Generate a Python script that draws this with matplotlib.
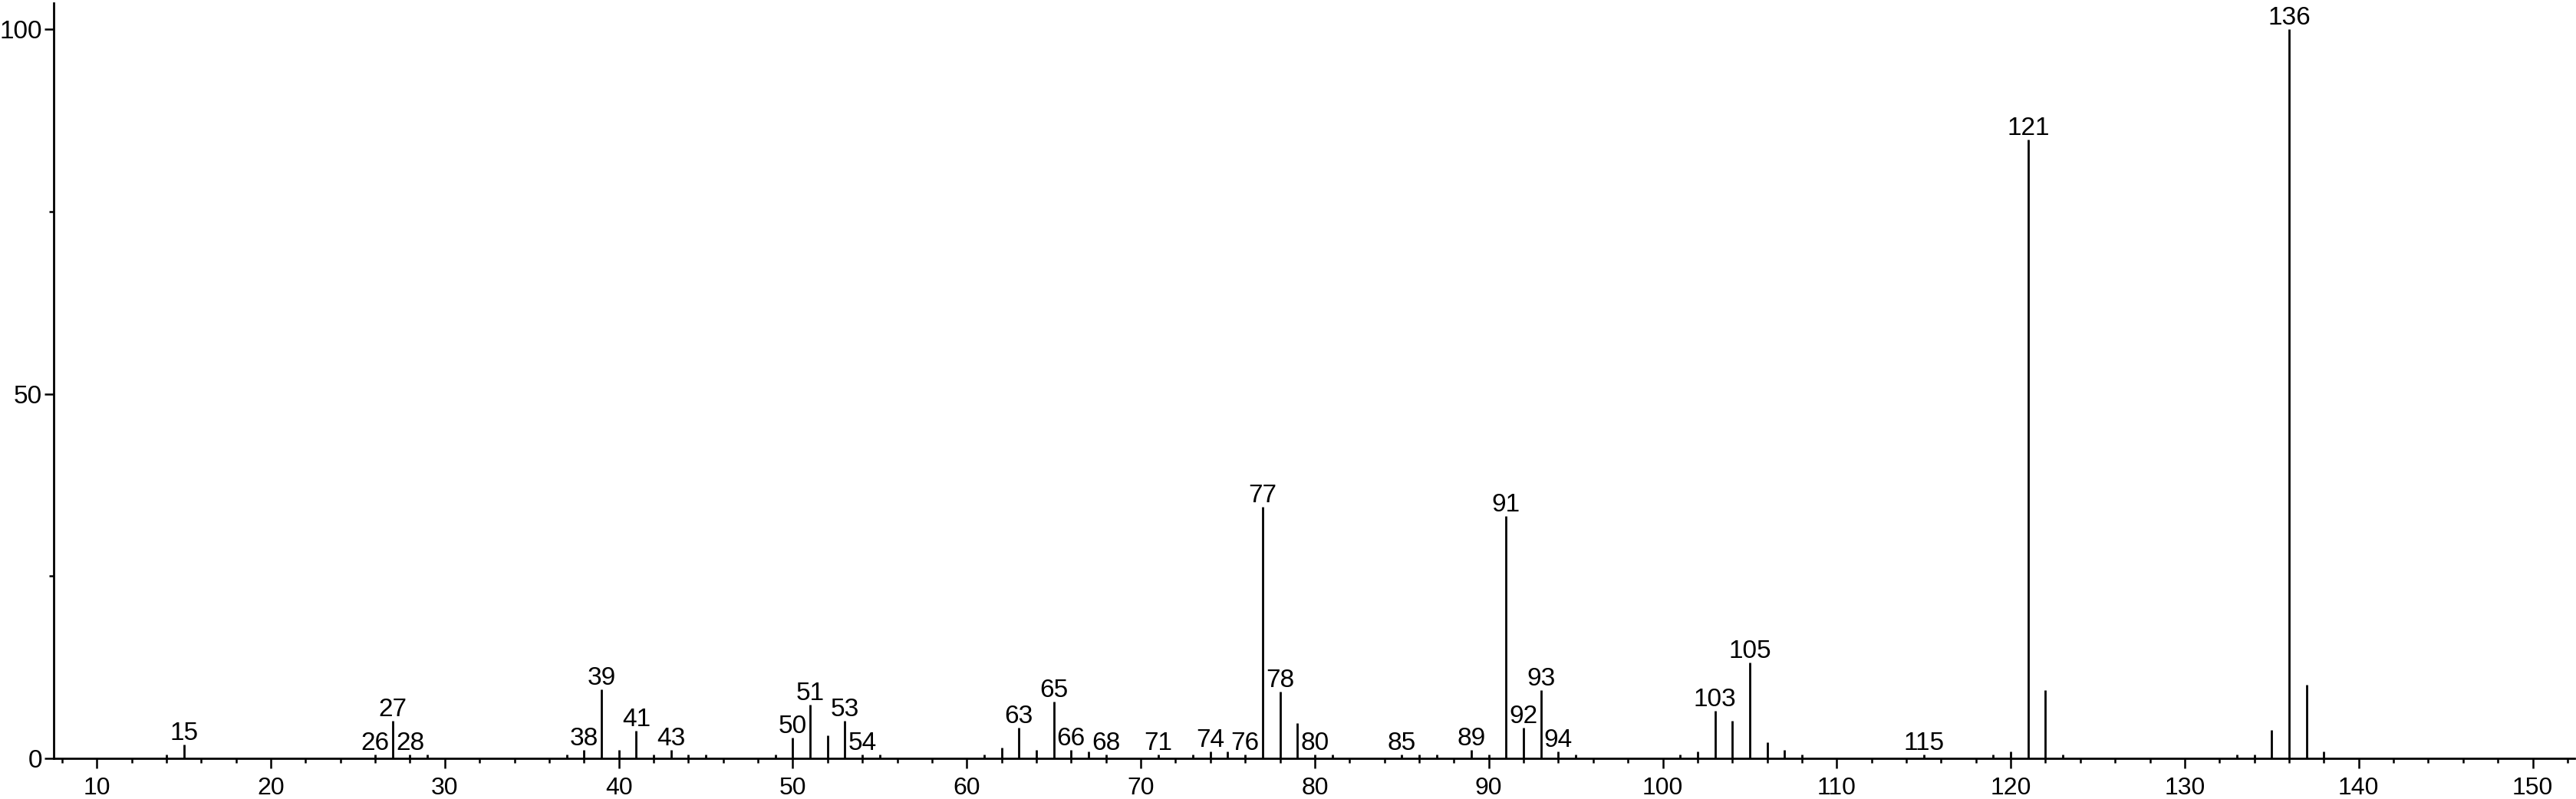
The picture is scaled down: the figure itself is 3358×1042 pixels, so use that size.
import matplotlib
matplotlib.use("Agg")
import matplotlib.pyplot as plt
from matplotlib.ticker import MultipleLocator, FixedLocator

plt.rcParams['font.family'] = ['Liberation Sans', 'DejaVu Sans']

mz = [14, 15, 26, 27, 28, 29, 37, 38, 39, 40, 41, 42, 43, 44, 45, 49, 50, 51, 52, 53,
      54, 55, 61, 62, 63, 64, 65, 66, 67, 68, 71, 73, 74, 75, 76, 77, 78, 79, 80, 81,
      85, 86, 87, 89, 90, 91, 92, 93, 94, 95, 101, 102, 103, 104, 105, 106, 107, 108,
      115, 119, 120, 121, 122, 123, 133, 134, 135, 136, 137, 138]
intensity = [0.5, 1.9, 0.5, 5.2, 0.5, 0.5, 0.5, 1.2, 9.5, 1.2, 3.8, 0.5, 1.2, 0.5, 0.5, 0.5, 2.8, 7.4, 3.2, 5.2,
             0.5, 0.5, 0.5, 1.5, 4.2, 1.2, 7.8, 1.2, 0.9, 0.5, 0.5, 0.5, 0.9, 0.9, 0.5, 34.5, 9.1, 4.8, 0.5, 0.5,
             0.5, 0.5, 0.5, 1.2, 0.5, 33.2, 4.2, 9.4, 0.9, 0.5, 0.5, 0.9, 6.5, 5.2, 13.1, 2.2, 1.2, 0.5,
             0.5, 0.5, 0.9, 84.9, 9.4, 0.5, 0.5, 0.5, 3.9, 100.0, 10.1, 0.9]
labeled = [15, 26, 27, 28, 38, 39, 41, 43, 50, 51, 53, 54, 63, 65, 66, 68, 71, 74, 76, 77,
           78, 80, 85, 89, 91, 92, 93, 94, 103, 105, 115, 121, 136]
x_ticks = [10, 20, 30, 40, 50, 60, 70, 80, 90, 100, 110, 120, 130, 140, 150]
y_ticks = [0, 50, 100]

W, H = 3358, 1042
fig = plt.figure(figsize=(W / 100, H / 100), dpi=100)
left_px, right_px, top_px, base_px = 69.5, 3356, 4, 989
ax = fig.add_axes([left_px / W, (H - base_px) / H, (right_px - left_px) / W, (base_px - top_px) / H])

ax.vlines(mz, 0, intensity, colors='black', linewidth=2.0)

lookup = dict(zip(mz, intensity))
for m in labeled:
    ax.annotate(str(m), xy=(m, lookup[m]), xytext=(0, 6), textcoords='offset pixels',
                ha='center', va='baseline', fontsize=24, color='black')

ax.set_xlim(7.5, 152.4)
ax.set_ylim(0, 103.6)

for s in ['top', 'right']:
    ax.spines[s].set_visible(False)
for s in ['left', 'bottom']:
    ax.spines[s].set_linewidth(2.0)

ax.xaxis.set_major_locator(FixedLocator(x_ticks))
ax.xaxis.set_minor_locator(MultipleLocator(2))
ax.yaxis.set_major_locator(FixedLocator(y_ticks))
ax.yaxis.set_minor_locator(FixedLocator([25, 75]))
ax.set_xticklabels([str(t) for t in x_ticks])
ax.set_yticklabels([str(t) for t in y_ticks])

ax.tick_params(axis='x', which='major', length=9, width=1.8, direction='out', pad=8, labelsize=23)
ax.tick_params(axis='x', which='minor', length=4.5, width=1.8, direction='out')
ax.tick_params(axis='y', which='major', length=9, width=1.8, direction='out', pad=1.5, labelsize=24)
ax.tick_params(axis='y', which='minor', length=4.5, width=1.8, direction='out')

fig.savefig('out.png', dpi=100)
